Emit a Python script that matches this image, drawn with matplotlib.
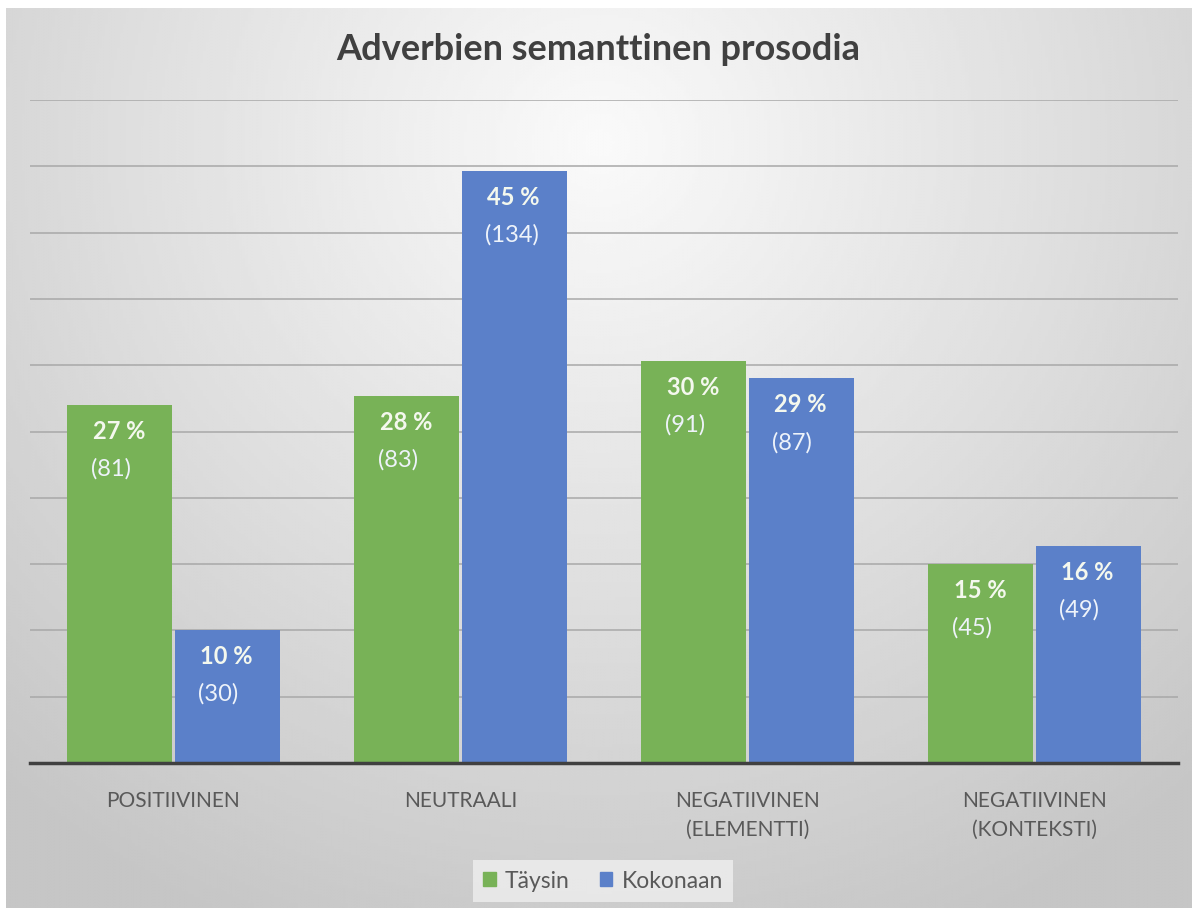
import matplotlib.pyplot as plt
import numpy as np
from matplotlib.patches import Patch

categories = ['POSITIIVINEN', 'NEUTRAALI', 'NEGATIIVINEN\n(ELEMENTTI)', 'NEGATIIVINEN\n(KONTEKSTI)']
series = ['Täysin', 'Kokonaan']
taysin = [81, 83, 91, 45]
kokonaan = [30, 134, 87, 49]
colors = ['#78b257', '#5b80c9']

plt.rcParams['font.family'] = ['Lato', 'DejaVu Sans']

fig = plt.figure(figsize=(11.92, 9.08), dpi=100)
fig.patch.set_facecolor('white')

# gradient background (white margin at top and left like the screenshot)
bg = fig.add_axes([6 / 1192, 0, 1 - 6 / 1192, 1 - 8 / 908], zorder=-10)
yy, xx = np.mgrid[0:1:300j, 0:1:400j]
r = np.sqrt(((xx - 0.5) / 0.75) ** 2 + ((yy - 0.15) / 0.95) ** 2)
shade = (250 - 52 * np.clip(r, 0, 1)) / 255.0
bg.imshow(shade, cmap='gray', vmin=0, vmax=1, aspect='auto', interpolation='bilinear')
bg.axis('off')

ax = fig.add_axes([30 / 1192, 1 - 763 / 908, 1148 / 1192, 663 / 908])
ax.set_facecolor('none')

x = np.arange(len(categories))
w = 0.366
off = 0.187
for i, (vals, col) in enumerate(zip([taysin, kokonaan], colors)):
  total = sum(vals)
  pct = [v / total * 100 for v in vals]
  pos = x + (off if i else -off)
  ax.bar(pos, pct, width=w, color=col, zorder=3, label=series[i])
  for px, p, v in zip(pos, pct, vals):
    ax.annotate('%d %%' % round(p), (px - 0.094, p), xytext=(0, -19), textcoords='offset points',
                ha='left', va='center', fontsize=17, fontweight='bold', color='#f4f8ee', zorder=4)
    ax.annotate('(%d)' % v, (px - 0.1, p), xytext=(0, -46), textcoords='offset points',
                ha='left', va='center', fontsize=17, color='#eef3fa', zorder=4)

ax.set_xlim(-0.5, 3.5)
ax.set_ylim(0, 50)
ax.set_yticks(np.arange(0, 51, 5))
ax.set_yticklabels([])
ax.yaxis.grid(True, color='#a8a8a8', linewidth=1.1, zorder=0)
ax.tick_params(axis='y', length=0)
ax.set_xticks(x)
ax.set_xticklabels(categories, fontsize=15, color='#595959', linespacing=1.55)
ax.tick_params(axis='x', length=0, pad=20)
for s in ['top', 'left', 'right']:
  ax.spines[s].set_visible(False)
ax.spines['bottom'].set_color('#404040')
ax.spines['bottom'].set_linewidth(2.5)
ax.spines['bottom'].set_zorder(5)

fig.text(598 / 1192, 1 - 50 / 908, 'Adverbien semanttinen prosodia', ha='center', va='center',
         fontsize=26, fontweight='bold', color='#404040')

handles = [Patch(color=c) for c in colors]
leg = fig.legend(handles, series, loc='center', bbox_to_anchor=(603 / 1192, 1 - 881 / 908), ncol=2,
                 fontsize=16.5, frameon=True, facecolor='#efefef', edgecolor='none', fancybox=False,
                 handlelength=0.55, handleheight=0.55, handletextpad=0.4, columnspacing=1.3,
                 borderpad=0.45)
for t in leg.get_texts():
  t.set_color('#595959')
leg.get_frame().set_alpha(0.8)

fig.savefig('out.png', dpi=100)
